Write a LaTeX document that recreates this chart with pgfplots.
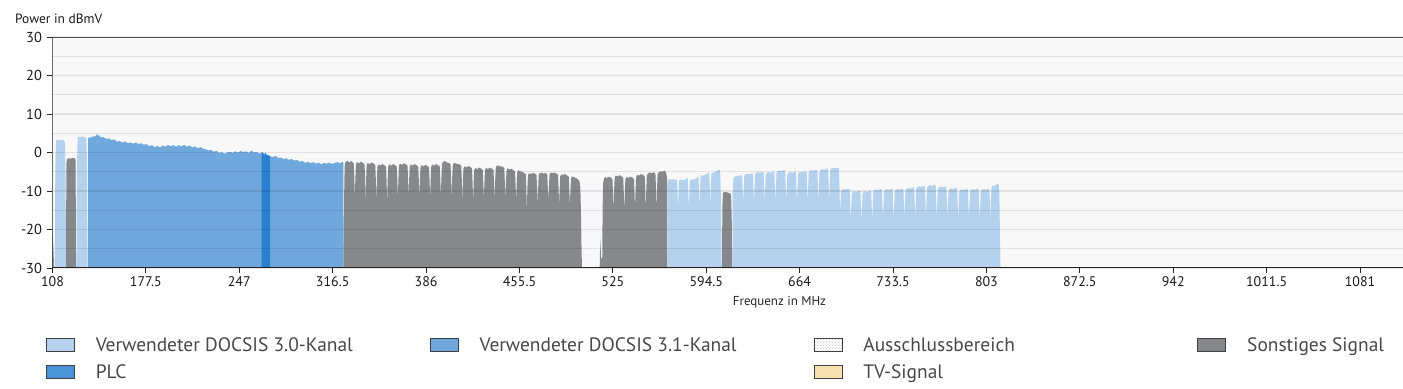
\documentclass[border=0pt]{standalone}
\usepackage{fontspec}
\setmainfont{PT Sans}
\usepackage{pgfplots}
\pgfplotsset{compat=1.18}
\usetikzlibrary{patterns}

\definecolor{cLB}{RGB}{180,210,238}
\definecolor{cOF}{RGB}{111,168,220}
\definecolor{cPLC}{RGB}{41,128,208}
\definecolor{cGR}{RGB}{134,136,140}
\definecolor{cTV}{RGB}{246,224,178}
\definecolor{cBG}{RGB}{248,248,248}
\definecolor{cTXT}{RGB}{72,72,72}

\begin{document}
\begin{tikzpicture}[x=1bp,y=1bp]
\begin{axis}[
  at={(52.5bp,121bp)}, anchor=south west,
  scale only axis, width=1350.5bp, height=231bp,
  xmin=108, xmax=1113, ymin=-30, ymax=30,
  axis background/.style={fill=cBG},
  axis line style={draw=none},
  axis on top,
  tick pos=left,
  ytick={-30,-20,-10,0,10,20,30},
  yticklabels={-30,-20,-10,0,10,20,30},
  minor ytick={-25,-15,-5,5,15,25},
  ymajorgrids, yminorgrids,
  major grid style={black, opacity=0.09, line width=1.2bp},
  minor grid style={black, opacity=0.09, line width=1.2bp},
  xtick={108,177.5,247,316.5,386,455.5,525,594.5,664,733.5,803,872.5,942,1011.5,1081},
  xticklabels={108,177.5,247,316.5,386,455.5,525,594.5,664,733.5,803,872.5,942,1011.5,1081},
  tick align=outside,
  major tick length=5bp, minor tick length=0pt,
  tick style={black!85, line width=1bp},
  ticklabel style={font=\fontsize{14}{16}\selectfont, text=black!90},
  yticklabel style={xshift=-2bp, font=\fontsize{14.5}{16}\selectfont},
  xlabel={Frequenz in MHz},
  ylabel={Power in dBmV},
  every axis x label/.style={at={(rel axis cs:0.5383,0)}, anchor=base, yshift=-37bp, font=\fontsize{13}{15}\selectfont, text=black!85},
  every axis y label/.style={at={(rel axis cs:0,1)}, anchor=base west, xshift=-37.5bp, yshift=14bp, inner sep=0pt, font=\fontsize{13.5}{15}\selectfont, text=black!90},
  legend image code/.code={\filldraw[#1, draw=black!75, line width=0.8bp] (0bp,-6.5bp) rectangle (28bp,6.5bp);},
  legend cell align=left,
  legend columns=4,
  legend style={at={(rel axis cs:-0.00481,-0.30)}, anchor=north west,
    draw=none, fill=none, inner sep=0pt, outer sep=0pt,
    font=\fontsize{19.5}{22}\selectfont, text=cTXT, row sep=12bp,
    nodes={inner sep=0pt},
    /tikz/every odd column/.append style={column sep=21bp}},
]
% left gray sliver
\addplot[fill=cGR, draw=none, forget plot] coordinates {(108,-30)(108,-21)(108.6,-24)(109.2,-30)};
% DOCSIS 3.0 channel 1
\addplot[fill=cLB, draw=none, forget plot] coordinates {(109.7,-30)(110.1,-5)(110.6,3.0)(111.5,3.4)(113,3.1)(114.5,3.3)(116,3.2)(117.2,2.9)(117.7,-5)(118.1,-30)};
% other signal
\addplot[fill=cGR, draw=none, forget plot] coordinates {(118.1,-30)(118.3,-3)(118.8,-1.7)(120,-1.5)(121.5,-1.6)(123,-1.4)(124.5,-1.5)(125.2,-2)(125.5,-30)};
% DOCSIS 3.0 channel 2
\addplot[fill=cLB, draw=none, forget plot] coordinates {(125.8,-30)(126.2,-4)(126.7,3.8)(127.5,4.1)(129,4.0)(130.5,4.2)(132,3.9)(133.2,3.8)(133.7,-3)(134,-30)};
% DOCSIS 3.1 OFDM block
\addplot[fill=cOF, draw=none, forget plot] coordinates {(134.4,-30)(134.5,3.6)(135,4.0)(136,3.7)(137,4.2)(138,3.9)(139,4.4)(140,4.1)(141,4.8)(142,4.3)(143,4.5)(144,3.9)(146,4.0)(148,3.5)(150,3.7)(152,3.2)(154,3.4)(156,2.8)(158,3.0)(160,2.6)(162,2.9)(164,2.4)(166,2.6)(168,2.3)(170,2.6)(172,2.2)(174,2.4)(176,2.0)(178,2.2)(180,1.6)(182,1.9)(184,1.4)(186,1.7)(188,1.3)(190,1.8)(192,1.5)(194,2.0)(196,1.6)(198,1.9)(200,1.5)(202,1.9)(204,1.6)(206,2.0)(208,1.5)(210,1.8)(212,1.3)(214,1.6)(216,1.1)(218,1.4)(220,1.0)(222,0.9)(224,0.5)(226,0.7)(228,0.2)(230,0.4)(232,-0.1)(234,0.1)(236,-0.3)(238,0.0)(240,0.2)(242,-0.1)(244,0.3)(246,0.0)(248,0.4)(250,0.1)(252,0.3)(254,-0.1)(256,0.5)(258,0.0)(260,0.2)(262,-0.3)(264,0.1)(266,-0.5)(268,-0.6)(270,-1.0)(272,-1.2)(274,-0.9)(276,-1.4)(278,-1.3)(280,-1.7)(282,-1.5)(284,-1.9)(286,-1.7)(288,-2.1)(290,-1.9)(292,-2.4)(294,-2.2)(296,-2.7)(298,-2.4)(300,-2.8)(302,-2.5)(304,-2.9)(306,-2.6)(308,-3.1)(310,-2.7)(312,-2.9)(314,-2.6)(316,-3.0)(318,-2.7)(320,-2.5)(322,-2.8)(324,-2.4)(324.5,-2.6)(324.6,-30)};
% PLC
\addplot[fill=cPLC, draw=none, forget plot] coordinates {(263.6,-30)(263.6,-0.6)(264,-0.2)(264.5,0.1)(265,-0.3)(265.5,-1.2)(266,-0.2)(266.5,0.0)(267,-0.5)(268,-0.8)(269,-0.7)(269.9,-1.0)(269.9,-30)};
% other signals block 1
\addplot[fill=cGR, draw=none, forget plot] coordinates {(324.6,-30)(324.9,-16)(325.2,-7)(325.5,-3.2)(326,-2.5)(327.5,-2.1)(329,-2.6)(330.5,-2.2)(331.5,-2.6)(332.2,-2.9)(332.6,-6.5)(333,-11.9)
(333.4,-6.5)(333.8,-3.2)(334.5,-2.5)(336,-2.8)(337.5,-2.4)(339,-2.7)(340.2,-3.1)(340.6,-6.5)(341,-13.2)
(341.4,-6.8)(341.8,-3.4)(342.5,-2.7)(344,-3.0)(345.5,-2.6)(347,-2.9)(348.2,-3.3)(348.6,-6.8)(349,-12.8)
(349.4,-7.2)(349.8,-3.8)(350.5,-3.1)(352,-3.4)(353.5,-3.0)(355,-3.3)(356.2,-3.7)(356.6,-7.2)(357,-13.2)
(357.4,-7.2)(357.8,-3.8)(358.5,-3.1)(360,-3.4)(361.5,-3.0)(363,-3.3)(364.2,-3.7)(364.6,-7.2)(365,-11.9)
(365.4,-7.0)(365.8,-3.6)(366.5,-2.9)(368,-3.2)(369.5,-2.8)(371,-3.1)(372.2,-3.5)(372.6,-7.0)(373,-11.0)
(373.4,-7.2)(373.8,-3.8)(374.5,-3.1)(376,-3.4)(377.5,-3.0)(379,-3.3)(380.2,-3.7)(380.6,-7.2)(381,-11.5)
(381.4,-7.4)(381.8,-4.0)(382.5,-3.3)(384,-3.6)(385.5,-3.2)(387,-3.5)(388.2,-3.9)(388.6,-7.4)(389,-11.9)
(389.4,-7.2)(389.8,-3.8)(390.5,-3.1)(392,-3.4)(393.5,-3.0)(395,-3.3)(396.2,-3.7)(396.6,-7.2)(397,-11.5)
(397.4,-6.6)(397.8,-3.2)(398.5,-2.5)(400,-2.2)(401.5,-2.6)(403,-2.7)(404.2,-3.1)(404.6,-6.6)(405,-11.9)
(405.4,-7.0)(405.8,-3.6)(406.5,-2.7)(408,-2.8)(409.5,-3.0)(411,-3.1)(412.2,-3.5)(412.6,-7.0)(413,-12.8)
(413.4,-7.7)(413.8,-4.3)(414.5,-3.6)(416,-3.9)(417.5,-3.5)(419,-3.8)(420.2,-4.2)(420.6,-7.7)(421,-12.8)
(421.4,-8.1)(421.8,-4.7)(422.5,-4.0)(424,-4.3)(425.5,-3.9)(427,-4.2)(428.2,-4.6)(428.6,-8.1)(429,-11.9)
(429.4,-8.1)(429.8,-4.7)(430.5,-4.0)(432,-4.3)(433.5,-3.9)(435,-4.2)(436.2,-4.6)(436.6,-8.1)(437,-12.3)
(437.4,-7.5)(437.8,-4.1)(438.5,-3.4)(440,-3.4)(441.5,-3.6)(443,-3.7)(444.2,-4.0)(444.6,-7.5)(445,-11.9)
(445.4,-8.3)(445.8,-4.9)(446.5,-4.1)(448,-4.4)(449.5,-4.2)(451,-4.6)(452.2,-5.0)(452.6,-8.3)(453,-12.3)
(453.4,-8.7)(453.8,-5.3)(454.5,-4.6)(456,-4.9)(457.5,-5.0)(459,-5.3)(460.2,-5.6)(460.6,-9.0)(461,-15.4)
(461.4,-9.4)(461.8,-6.0)(462.5,-5.4)(464,-5.6)(465.5,-5.3)(467,-5.5)(468.2,-5.8)(468.6,-9.4)(469,-13.6)
(469.4,-9.3)(469.8,-5.9)(470.5,-5.4)(472,-5.2)(473.5,-5.5)(475,-5.3)(476.2,-5.7)(476.6,-9.3)(477,-12.3)
(477.4,-9.3)(477.8,-5.9)(478.5,-5.2)(480,-5.4)(481.5,-5.2)(483,-5.5)(484.2,-5.8)(484.6,-9.3)(485,-13.6)
(485.4,-9.7)(485.8,-6.3)(486.5,-5.7)(488,-5.8)(489.5,-5.6)(491,-6.0)(492.2,-6.3)(492.6,-9.7)(493,-13.6)
(493.4,-10.3)(493.8,-6.9)(494.5,-6.2)(496,-6.4)(497.5,-6.6)(499,-7.0)(500.2,-7.5)(500.8,-9)(501.3,-16)(501.7,-25)(502,-30)};
% other signals block 2
\addplot[fill=cGR, draw=none, forget plot] coordinates {(515.2,-30)(515.6,-22.5)(516.3,-27.5)(517.1,-27.5)(517.4,-14)(517.8,-8)(518.3,-6.9)(519,-6.4)(520.5,-6.6)(522,-6.3)(523.5,-6.5)(524.7,-6.9)(525.1,-10.4)(525.5,-15.4)
(525.9,-10.1)(526.3,-6.7)(527,-6.0)(528.5,-6.2)(530,-5.9)(531.5,-6.2)(532.7,-6.6)(533.1,-10.1)(533.5,-15.7)
(533.9,-10.4)(534.3,-7.0)(535,-6.4)(536.5,-6.6)(538,-6.3)(539.5,-6.5)(540.7,-6.9)(541.1,-10.4)(541.5,-14.5)
(541.9,-9.8)(542.3,-6.4)(543,-5.8)(544.5,-6.0)(546,-5.6)(547.5,-5.8)(548.7,-6.2)(549.1,-9.8)(549.5,-15.4)
(549.9,-9.4)(550.3,-6.0)(551,-5.5)(552.5,-5.2)(554,-5.4)(555.5,-5.1)(556.7,-5.6)(557.1,-9.4)(557.5,-15.4)
(557.9,-9.1)(558.3,-5.7)(559,-5.2)(560.5,-4.9)(562,-5.0)(563.5,-4.7)(564.6,-5.2)(565.3,-6.5)(565.5,-30)};
% DOCSIS 3.0 block 1
\addplot[fill=cLB, draw=none, forget plot] coordinates {(565.5,-30)(565.5,-9)(566,-7.2)(567,-6.9)(568.5,-7.1)(570,-6.9)(571.5,-7.2)(572.7,-7.0)(573.1,-10)(573.5,-14.8)
(573.9,-10.5)(574.3,-7.4)(575,-7.0)(576.5,-7.2)(578,-7.1)(579.5,-6.9)(580.7,-6.6)(581.1,-10)(581.5,-14.6)
(581.9,-10.5)(582.3,-7.4)(583,-7.0)(584.5,-7.1)(586,-6.9)(587.5,-6.6)(588.7,-6.3)(589.1,-10)(589.5,-15)
(589.9,-9.5)(590.3,-6.2)(591,-5.9)(592.5,-6.0)(594,-5.7)(595.5,-5.5)(596.7,-5.1)(597.1,-9)(597.5,-14.7)
(597.9,-9)(598.3,-5.6)(599,-5.3)(600.5,-5.2)(602,-4.9)(603.5,-4.6)(604.5,-4.4)(605,-6)(605.5,-14)(605.9,-30)};
% other signal
\addplot[fill=cGR, draw=none, forget plot] coordinates {(606.2,-30)(606.5,-14)(606.9,-10.8)(607.5,-10.2)(609,-10.3)(610.5,-10.4)(612,-10.6)(613,-11)(613.5,-18)(613.8,-30)};
% DOCSIS 3.0 block 2
\addplot[fill=cLB, draw=none, forget plot] coordinates {(614,-30)(614.1,-12)(614.5,-7.5)(614.8,-6.6)(615.5,-6.3)(617,-6.1)(618.5,-6.2)(620,-5.9)(621.2,-6.0)(621.6,-9.6)(622,-13.4)
(622.4,-9.6)(622.8,-6.1)(623.5,-5.7)(625,-5.5)(626.5,-5.7)(628,-5.4)(629.2,-5.5)(629.6,-9.6)(630,-13.4)
(630.4,-9.2)(630.8,-5.7)(631.5,-5.3)(633,-5.1)(634.5,-5.3)(636,-5.0)(637.2,-5.1)(637.6,-9.2)(638,-13.2)
(638.4,-9.2)(638.8,-5.7)(639.5,-5.3)(641,-5.1)(642.5,-5.3)(644,-5.0)(645.2,-5.1)(645.6,-9.2)(646,-13.4)
(646.4,-8.8)(646.8,-5.3)(647.5,-4.9)(649,-4.7)(650.5,-4.9)(652,-4.6)(653.2,-4.7)(653.6,-8.8)(654,-13.3)
(654.4,-9.2)(654.8,-5.7)(655.5,-5.3)(657,-5.1)(658.5,-5.3)(660,-5.0)(661.2,-5.1)(661.6,-9.2)(662,-13.4)
(662.4,-9.1)(662.8,-5.6)(663.5,-5.2)(665,-5.0)(666.5,-5.2)(668,-4.9)(669.2,-5.0)(669.6,-9.1)(670,-13.2)
(670.4,-8.7)(670.8,-5.2)(671.5,-4.8)(673,-4.6)(674.5,-4.8)(676,-4.5)(677.2,-4.6)(677.6,-8.7)(678,-13.3)
(678.4,-8.4)(678.8,-4.9)(679.5,-4.5)(681,-4.3)(682.5,-4.5)(684,-4.2)(685.2,-4.3)(685.6,-8.4)(686,-13.2)
(686.4,-8.1)(686.8,-4.6)(687.5,-4.2)(689,-4.0)(690.5,-4.2)(692,-3.9)(693.2,-4.2)(693.6,-8.5)(694,-15.4)
(694.4,-13.6)(694.8,-10.1)(695.5,-9.7)(697,-9.5)(698.5,-9.7)(700,-9.4)(701.2,-9.5)(701.6,-13.6)(702,-17.5)
(702.4,-14.2)(702.8,-10.7)(703.5,-10.3)(705,-10.1)(706.5,-10.3)(708,-10.0)(709.2,-10.1)(709.6,-14.2)(710,-18)
(710.4,-14.2)(710.8,-10.7)(711.5,-10.3)(713,-10.1)(714.5,-10.3)(716,-10.0)(717.2,-10.1)(717.6,-14.2)(718,-17.8)
(718.4,-13.7)(718.8,-10.2)(719.5,-9.8)(721,-9.6)(722.5,-9.8)(724,-9.5)(725.2,-9.6)(725.6,-13.7)(726,-17.5)
(726.4,-13.6)(726.8,-10.1)(727.5,-9.7)(729,-9.5)(730.5,-9.7)(732,-9.4)(733.2,-9.5)(733.6,-13.6)(734,-17.6)
(734.4,-13.6)(734.8,-10.1)(735.5,-9.7)(737,-9.5)(738.5,-9.7)(740,-9.4)(741.2,-9.5)(741.6,-13.6)(742,-17.3)
(742.4,-13.3)(742.8,-9.8)(743.5,-9.4)(745,-9.2)(746.5,-9.4)(748,-9.1)(749.2,-9.2)(749.6,-13.3)(750,-17.5)
(750.4,-12.9)(750.8,-9.4)(751.5,-9.0)(753,-8.8)(754.5,-9.0)(756,-8.7)(757.2,-8.8)(757.6,-12.9)(758,-17.2)
(758.4,-12.6)(758.8,-9.1)(759.5,-8.7)(761,-8.5)(762.5,-8.7)(764,-8.4)(765.2,-8.5)(765.6,-12.6)(766,-17.5)
(766.4,-13.0)(766.8,-9.5)(767.5,-9.1)(769,-8.9)(770.5,-9.1)(772,-8.8)(773.2,-8.9)(773.6,-13.0)(774,-17.4)
(774.4,-13.4)(774.8,-9.9)(775.5,-9.5)(777,-9.3)(778.5,-9.5)(780,-9.2)(781.2,-9.3)(781.6,-13.4)(782,-17.8)
(782.4,-13.7)(782.8,-10.2)(783.5,-9.8)(785,-9.6)(786.5,-9.8)(788,-9.5)(789.2,-9.6)(789.6,-13.7)(790,-17.5)
(790.4,-13.6)(790.8,-10.1)(791.5,-9.7)(793,-9.5)(794.5,-9.7)(796,-9.4)(797.2,-9.5)(797.6,-13.6)(798,-17.6)
(798.4,-13.6)(798.8,-10.1)(799.5,-9.7)(801,-9.5)(802.5,-9.7)(804,-9.4)(805.2,-9.5)(805.6,-13.6)(806,-17.8)
(806.4,-12.4)(806.8,-8.9)(807.5,-8.6)(809,-8.6)(810.5,-8.3)(811.5,-8.0)(812.2,-8.2)(812.6,-11)(813,-20)(813.5,-30)};
% axis lines
\draw[black!65, line width=2bp] (rel axis cs:0,1) -- (rel axis cs:1,1);
\draw[black!85, line width=1.5bp] (rel axis cs:0,0) -- (rel axis cs:0,1);
\draw[black!85, line width=1.5bp] (rel axis cs:0,0) -- (rel axis cs:1,0);
% legend
\addlegendimage{fill=cLB}
\addlegendentry{\makebox[334bp][l]{Verwendeter DOCSIS 3.0-Kanal}}
\addlegendimage{fill=cOF}
\addlegendentry{\makebox[334bp][l]{Verwendeter DOCSIS 3.1-Kanal}}
\addlegendimage{pattern=crosshatch dots, pattern color=black!30}
\addlegendentry{\makebox[334bp][l]{Ausschlussbereich}}
\addlegendimage{fill=cGR}
\addlegendentry{Sonstiges Signal}
\addlegendimage{fill=cPLC!85!white}
\addlegendentry{\makebox[334bp][l]{PLC}}
\addlegendimage{empty legend}
\addlegendentry{\makebox[334bp][l]{}}
\addlegendimage{fill=cTV}
\addlegendentry{\makebox[334bp][l]{TV-Signal}}
\addlegendimage{empty legend}
\addlegendentry{}
\end{axis}
\pgfresetboundingbox
\path (0,0) rectangle (1403bp,389bp);
\end{tikzpicture}
\end{document}
